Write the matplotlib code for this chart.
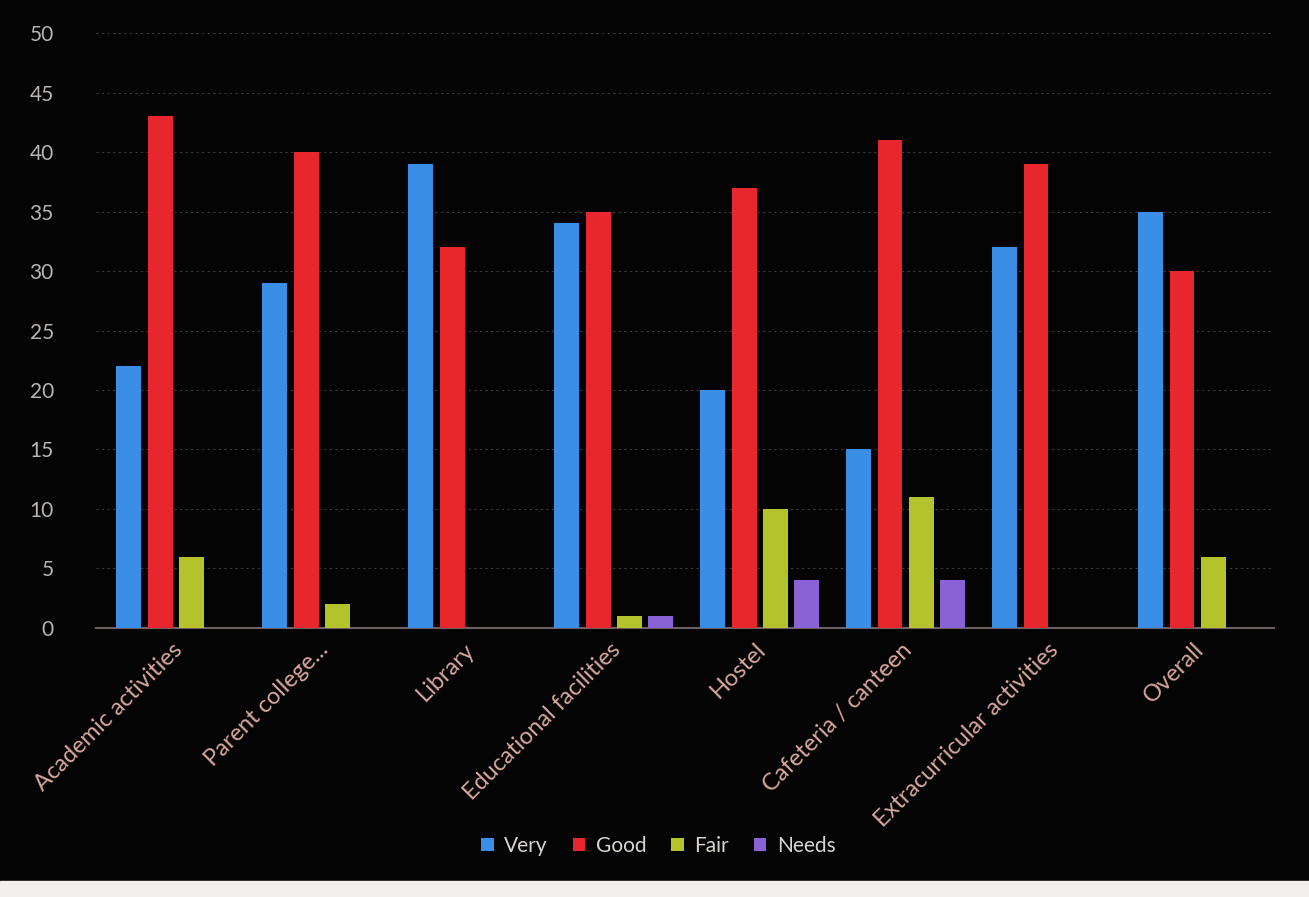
import matplotlib.pyplot as plt
import numpy as np
from matplotlib.patches import Rectangle

plt.rcParams['font.family'] = ['Lato', 'DejaVu Sans']

categories = ["Academic activities", "Parent college...", "Library",
              "Educational facilities", "Hostel", "Cafeteria / canteen",
              "Extracurricular activities", "Overall"]
very = [22, 29, 39, 34, 20, 15, 32, 35]
good = [43, 40, 32, 35, 37, 41, 39, 30]
fair = [6, 2, 0, 1, 10, 11, 0, 6]
needs = [0, 0, 0, 1, 4, 4, 0, 0]
series_names = ["Very", "Good", "Fair", "Needs"]
colors = ["#3a8ee6", "#e8262e", "#b4c22c", "#8a62d6"]

fig = plt.figure(figsize=(13.09, 8.97), dpi=100, facecolor="#050404")
ax = fig.add_axes([0.073, 0.30, 0.90, 0.663])
ax.set_facecolor("#050404")

x = np.arange(len(categories))
w = 0.17
pitch = 0.215
for i, (vals, name) in enumerate(zip([very, good, fair, needs], series_names)):
    ax.bar(x + (i - 1.5) * pitch + 0.03, vals, w, color=colors[i], label=name, zorder=3)

ax.set_xlim(-0.52, 7.55)
ax.set_ylim(0, 50)
ax.set_yticks(range(0, 51, 5))
ax.tick_params(axis="y", colors="#b8b4b0", labelsize=15, length=0, pad=30)
ax.tick_params(axis="x", length=0, pad=8)
ax.set_xticks(x)
ax.set_xticklabels(categories, rotation=45, ha="right", rotation_mode="anchor",
                   color="#d8a89c", fontsize=17)
ax.grid(axis="y", color="#3e3838", linestyle=(0, (2, 3)), linewidth=0.8, zorder=0)
ax.set_axisbelow(True)
for s in ["top", "right", "left"]:
    ax.spines[s].set_visible(False)
ax.spines["bottom"].set_color("#6a6060")
ax.spines["bottom"].set_linewidth(1.5)

leg = fig.legend(loc="center", bbox_to_anchor=(0.503, 0.057), ncol=4, frameon=False,
                 fontsize=15, handlelength=0.6, handleheight=0.6, handletextpad=0.5,
                 columnspacing=1.2)
for t in leg.get_texts():
    t.set_color("#d8d4d0")

# white edge of the photographed page at the bottom
fig.add_artist(Rectangle((0, 0), 1, 0.018, transform=fig.transFigure,
                         color="#f2f0ee", zorder=0))

fig.savefig("out.png", dpi=100, facecolor=fig.get_facecolor())
